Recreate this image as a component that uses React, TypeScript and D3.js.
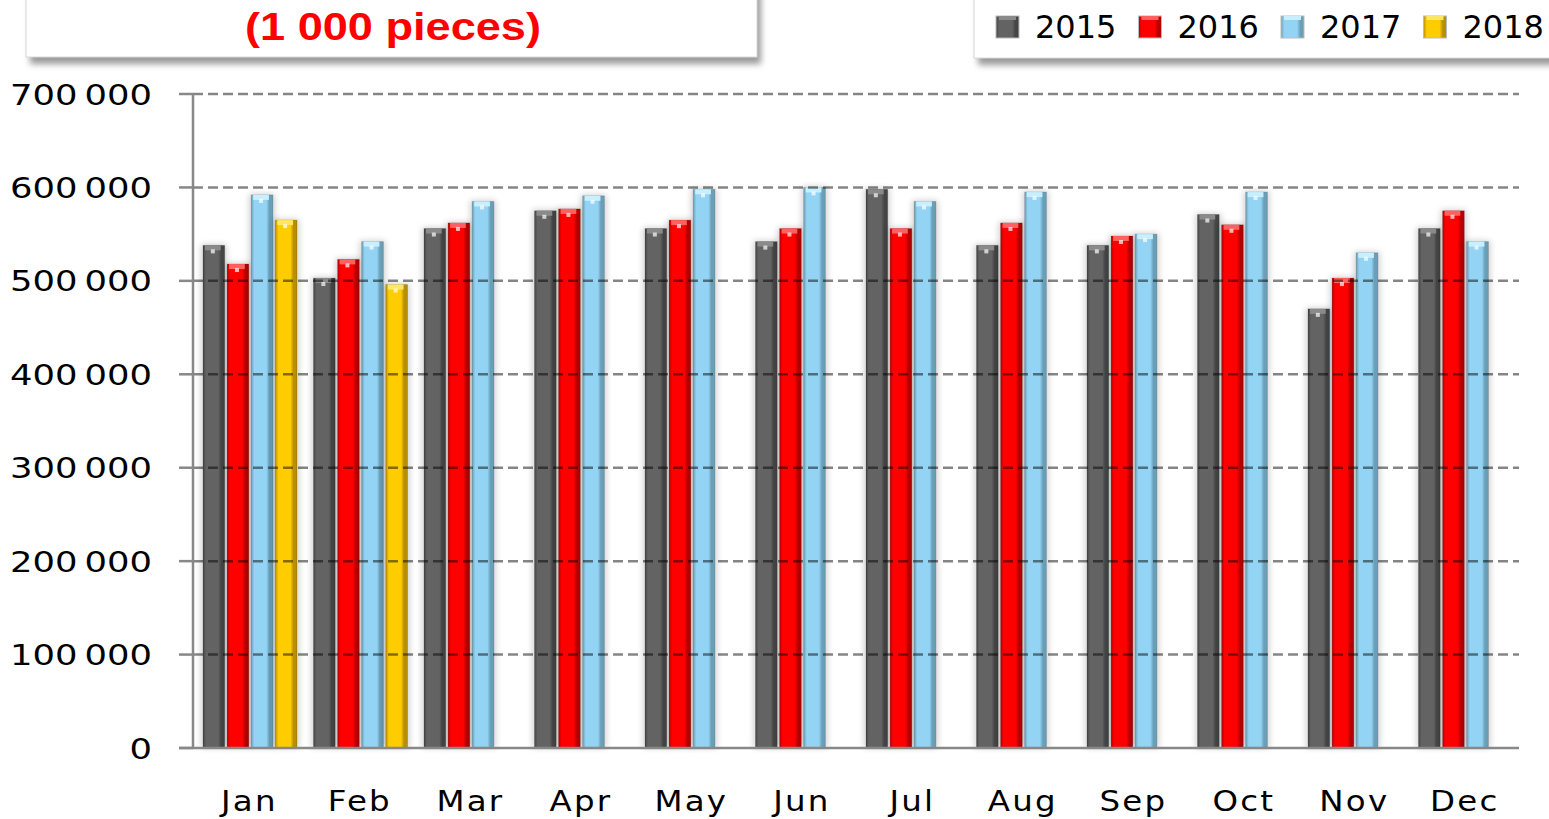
import React, { useEffect } from 'react';
import * as d3 from 'd3';

const months = ['Jan', 'Feb', 'Mar', 'Apr', 'May', 'Jun', 'Jul', 'Aug', 'Sep', 'Oct', 'Nov', 'Dec'];
const series = ['2015', '2016', '2017', '2018'];
const values2015 = [538000, 503000, 556000, 575000, 556000, 542000, 598000, 538000, 538000, 571000, 470000, 556000];
const values2016 = [518000, 523000, 562000, 577000, 565000, 556000, 556000, 562000, 548000, 560000, 503000, 575000];
const values2017 = [592000, 542000, 585000, 591000, 598000, 600000, 585000, 595000, 550000, 595000, 530000, 542000];
const values2018 = [565000, 496000];
const yTicks = [0, 100000, 200000, 300000, 400000, 500000, 600000, 700000];
const title = '(1 000 pieces)';

const seriesValues: Record<string, number[]> = {
  '2015': values2015,
  '2016': values2016,
  '2017': values2017,
  '2018': values2018,
};

// body colour, edge colour, top cap colour
const colors: Record<string, [string, string, string]> = {
  '2015': ['#636363', '#454545', '#8a8a8a'],
  '2016': ['#ff0000', '#b80000', '#ff6060'],
  '2017': ['#93d3f3', '#6a9fb8', '#c8efff'],
  '2018': ['#ffcc00', '#b88f00', '#ffe666'],
};

const W = 1549;
const H = 819;
const axisX = 193;
const plotRight = 1519;

export default function App() {
  useEffect(() => {
    document.body.style.margin = '0';
  }, []);

  const x0 = d3.scaleBand<string>().domain(months).range([axisX, plotRight]);
  const x1 = d3.scaleBand<string>().domain(series).range([0, 94]).paddingInner(0.1);
  const y = d3.scaleLinear().domain([0, 700000]).range([748, 94]);
  const fmt = (v: number) => d3.format(',')(v).replace(/,/g, '\u2009');

  const bars: { m: string; s: string; v: number }[] = [];
  months.forEach((m, i) => {
    series.forEach((s) => {
      const v = seriesValues[s][i];
      if (v !== undefined) bars.push({ m, s, v });
    });
  });

  const bw = x1.bandwidth();

  return (
    <svg width={W} height={H} style={{ display: 'block', background: '#fff' }}>
      <defs>
        {series.map((s) => (
          <linearGradient key={s} id={'g' + s} x1="0" x2="1" y1="0" y2="0">
            <stop offset="0%" stopColor={colors[s][1]} />
            <stop offset="14%" stopColor={colors[s][0]} />
            <stop offset="70%" stopColor={colors[s][0]} />
            <stop offset="84%" stopColor={colors[s][1]} />
            <stop offset="100%" stopColor={colors[s][1]} />
          </linearGradient>
        ))}
        <filter id="blur" x="-50%" y="-50%" width="200%" height="200%">
          <feGaussianBlur stdDeviation="3" />
        </filter>
        <filter id="boxShadow" x="-10%" y="-50%" width="120%" height="200%">
          <feGaussianBlur stdDeviation="3" />
        </filter>
      </defs>

      {/* title box */}
      <rect x={30} y={-10} width={731} height={74} fill="#9a9a9a" filter="url(#boxShadow)" />
      <rect x={26} y={-10} width={731} height={67} fill="#fff" stroke="#d8d8d8" strokeWidth={1} />
      <text x={393} y={40} textAnchor="middle" fontFamily="Liberation Sans, Arial, sans-serif"
        fontWeight="bold" fontSize={38} fill="#ff0000" textLength={296} lengthAdjust="spacingAndGlyphs">
        {title}
      </text>

      {/* legend box */}
      <rect x={978} y={-10} width={600} height={75} fill="#9a9a9a" filter="url(#boxShadow)" />
      <rect x={974} y={-10} width={600} height={68} fill="#fff" stroke="#d8d8d8" strokeWidth={1} />
      {series.map((s, i) => {
        const lx = 996 + i * 142.5;
        return (
          <g key={s}>
            <rect x={lx} y={16} width={23} height={22} fill={`url(#g${s})`} stroke="#bbb" strokeWidth={1} />
            <rect x={lx + 3} y={16} width={17} height={4} fill={colors[s][2]} />
            <text x={lx + 39} y={38} fontFamily="DejaVu Sans, sans-serif" fontSize={32} fill="#000">{s}</text>
          </g>
        );
      })}

      {/* bars */}
      {bars.map((d) => {
        const bx = (x0(d.m) as number) + 10 + (x1(d.s) as number);
        const by = y(d.v);
        const bh = y(0) - by;
        return (
          <g key={d.m + d.s}>
            <rect x={bx - 2} y={by - 1} width={bw + 4} height={bh + 1} fill="#000" opacity={0.18} filter="url(#blur)" />
            <rect x={bx} y={by} width={bw} height={bh} fill={`url(#g${d.s})`} />
            <rect x={bx} y={by} width={bw} height={bh} fill="none" stroke="#000" strokeOpacity={0.15} strokeWidth={1} />
            <rect x={bx + 2} y={by} width={bw - 6} height={5} fill={colors[d.s][2]} />
            <rect x={bx + bw / 2 - 3} y={by + 4} width={4} height={4} fill="#fff" opacity={0.7} />
          </g>
        );
      })}

      {/* gridlines on top, semi transparent */}
      {yTicks.filter((t) => t > 0).map((t) => (
        <line key={t} x1={axisX} x2={plotRight} y1={y(t)} y2={y(t)} stroke="#000" strokeOpacity={0.48}
          strokeWidth={2.5} strokeDasharray="10 5" />
      ))}

      {/* y axis */}
      <line x1={axisX} x2={axisX} y1={y(700000)} y2={y(0)} stroke="#888" strokeWidth={2.5} />
      {yTicks.map((t) => (
        <g key={'t' + t}>
          <line x1={179} x2={axisX} y1={y(t)} y2={y(t)} stroke="#888" strokeWidth={2.5} />
          <g transform={`translate(152, ${y(t) + 10.5}) scale(1.22, 1)`}>
            <text x={0} y={0} textAnchor="end" fontFamily="DejaVu Sans, sans-serif" fontSize={29} fill="#000">
              {fmt(t)}
            </text>
          </g>
        </g>
      ))}

      {/* x axis */}
      <line x1={179} x2={plotRight} y1={y(0)} y2={y(0)} stroke="#888" strokeWidth={2.5} />
      {months.map((m) => (
        <g key={m} transform={`translate(${(x0(m) as number) + x0.bandwidth() / 2}, 811) scale(1.12, 1)`}>
          <text x={1} y={0} textAnchor="middle" fontFamily="DejaVu Sans, sans-serif" fontSize={29}
            letterSpacing={2} fill="#000">
            {m}
          </text>
        </g>
      ))}
    </svg>
  );
}
